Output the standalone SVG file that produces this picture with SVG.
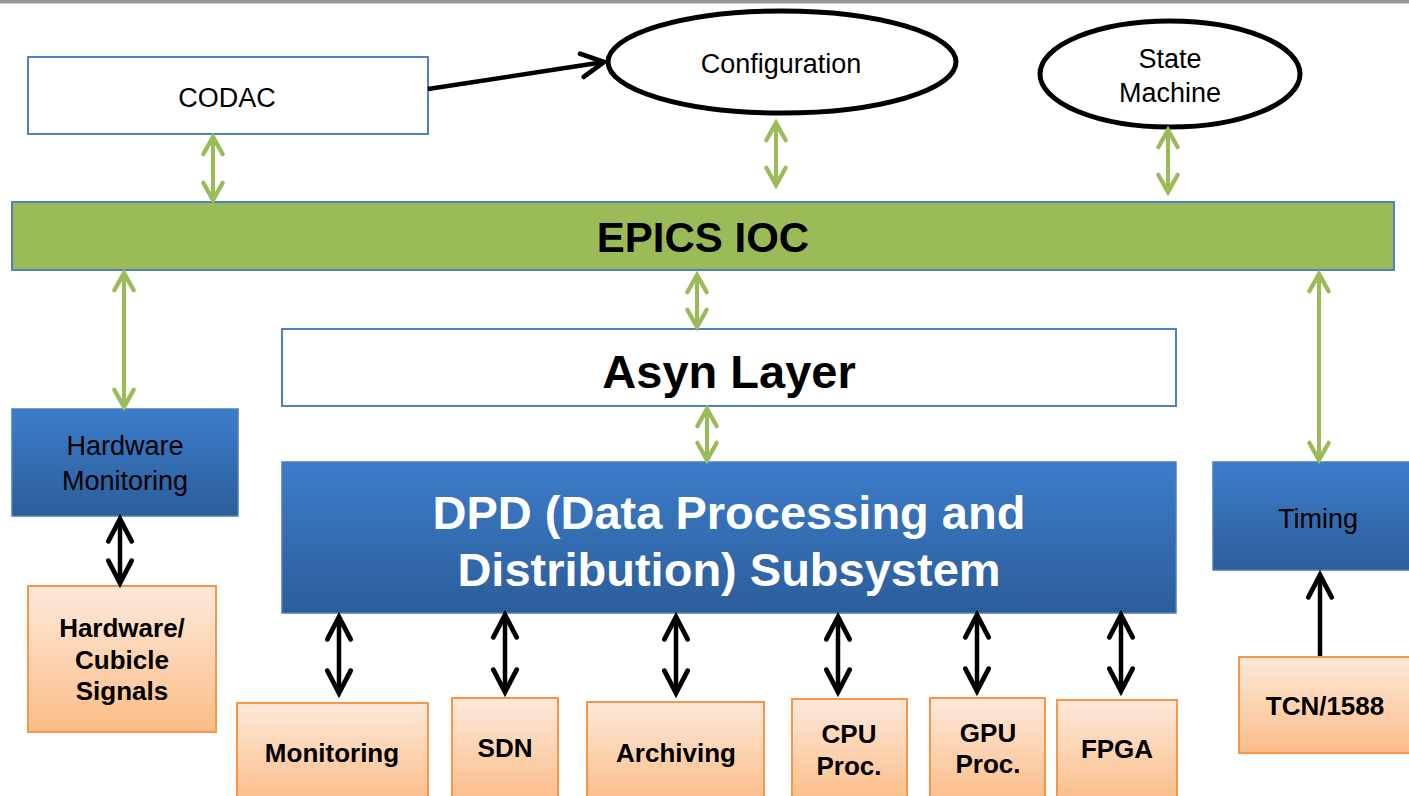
<svg xmlns="http://www.w3.org/2000/svg" width="1409" height="796" viewBox="0 0 1409 796">
<defs>
<linearGradient id="blueG" x1="0" y1="0" x2="0" y2="1">
<stop offset="0" stop-color="#3C7DCA"/>
<stop offset="1" stop-color="#2C5D99"/>
</linearGradient>
<linearGradient id="orangeG" x1="0" y1="0" x2="0" y2="1">
<stop offset="0" stop-color="#FDE9DA"/>
<stop offset="1" stop-color="#FBBD88"/>
</linearGradient>
<marker id="hb" markerUnits="userSpaceOnUse" markerWidth="34" markerHeight="34" viewBox="-4 -16 32 32" refX="22" refY="0" orient="auto-start-reverse">
<path d="M1,-11 L22,0 L1,11" fill="none" stroke="#000" stroke-width="4.5" stroke-linecap="round" stroke-linejoin="miter"/>
</marker>
<marker id="hg" markerUnits="userSpaceOnUse" markerWidth="28" markerHeight="28" viewBox="-4 -13 26 26" refX="17" refY="0" orient="auto-start-reverse">
<path d="M1,-9 L17,0 L1,9" fill="none" stroke="#9BBB59" stroke-width="4" stroke-linecap="round" stroke-linejoin="miter"/>
</marker>
</defs>
<style>
.t{font-family:"Liberation Sans",Arial,sans-serif;font-size:27px;fill:#000;text-anchor:middle}
.b{font-family:"Liberation Sans",Arial,sans-serif;font-weight:bold;font-size:26px;fill:#000;text-anchor:middle}
.big{font-family:"Liberation Sans",Arial,sans-serif;font-weight:bold;font-size:47px;text-anchor:middle}
.white{fill:#fff;stroke:#4F81BD;stroke-width:2}
.blue{fill:url(#blueG);stroke:#4A7EBB;stroke-width:1.5}
.orange{fill:url(#orangeG);stroke:#F79646;stroke-width:2}
.ell{fill:#fff;stroke:#000;stroke-width:5}
.gl{stroke:#9BBB59;stroke-width:4;fill:none;marker-start:url(#hg);marker-end:url(#hg)}
.bl{stroke:#000;stroke-width:4.5;fill:none;marker-start:url(#hb);marker-end:url(#hb)}
</style>
<rect x="0" y="0" width="1409" height="796" fill="#fff"/>
<rect x="0" y="0" width="1409" height="3.5" fill="#959595"/>

<g id="codac"><rect class="white" x="28" y="57" width="400" height="77"/><text class="t" x="227" y="107">CODAC</text></g>
<g id="configuration"><ellipse class="ell" cx="782" cy="62" rx="174" ry="51"/><text class="t" x="781" y="73">Configuration</text></g>
<g id="state-machine"><ellipse class="ell" cx="1170" cy="74" rx="130" ry="53"/><text class="t" x="1170" y="68">State</text><text class="t" x="1170" y="102">Machine</text></g>
<g id="epics-ioc"><rect x="12" y="202" width="1382" height="68" fill="#9BBB59" stroke="#4F81BD" stroke-width="2"/><text class="big" x="703" y="252" font-size="42" style="font-size:42px" fill="#000">EPICS IOC</text></g>
<g id="asyn-layer"><rect class="white" x="282" y="329" width="894" height="77"/><text class="big" x="729" y="388" fill="#000">Asyn Layer</text></g>
<g id="dpd"><rect class="blue" x="282" y="462" width="894" height="151"/><text class="big" x="729" y="529" fill="#fff">DPD (Data Processing and</text><text class="big" x="729" y="586" fill="#fff">Distribution) Subsystem</text></g>
<g id="hardware-monitoring"><rect class="blue" x="12" y="409" width="226" height="107"/><text class="t" x="125" y="455">Hardware</text><text class="t" x="125" y="490">Monitoring</text></g>
<g id="timing"><rect class="blue" x="1213" y="462" width="200" height="108"/><text class="t" x="1318" y="528">Timing</text></g>
<g id="hw-cubicle"><rect class="orange" x="28" y="586" width="188" height="146"/><text class="b" x="122" y="637">Hardware/</text><text class="b" x="122" y="669">Cubicle</text><text class="b" x="122" y="700">Signals</text></g>
<g id="tcn1588"><rect class="orange" x="1239" y="657" width="180" height="96"/><text class="b" x="1325" y="715">TCN/1588</text></g>
<g id="monitoring"><rect class="orange" x="237" y="703" width="191" height="100"/><text class="b" x="332" y="762">Monitoring</text></g>
<g id="sdn"><rect class="orange" x="452" y="698" width="106" height="105"/><text class="b" x="505" y="757">SDN</text></g>
<g id="archiving"><rect class="orange" x="587" y="702" width="177" height="101"/><text class="b" x="676" y="762">Archiving</text></g>
<g id="cpu"><rect class="orange" x="792" y="699" width="115" height="104"/><text class="b" x="849" y="743">CPU</text><text class="b" x="849" y="775">Proc.</text></g>
<g id="gpu"><rect class="orange" x="930" y="698" width="115" height="105"/><text class="b" x="988" y="742">GPU</text><text class="b" x="988" y="773">Proc.</text></g>
<g id="fpga"><rect class="orange" x="1057" y="700" width="120" height="103"/><text class="b" x="1117" y="758">FPGA</text></g>

<g id="connectors">
<line x1="428" y1="89" x2="604" y2="62" stroke="#000" stroke-width="4.5" marker-end="url(#hb)"/>
<line class="gl" x1="213" y1="137" x2="213" y2="200"/>
<line class="gl" x1="776" y1="123" x2="776" y2="185"/>
<line class="gl" x1="1168" y1="130" x2="1168" y2="192"/>
<line class="gl" x1="124" y1="273" x2="124" y2="407"/>
<line class="gl" x1="697" y1="275" x2="697" y2="327"/>
<line class="gl" x1="1319" y1="274" x2="1319" y2="460"/>
<line class="gl" x1="707" y1="409" x2="707" y2="460"/>
<line class="bl" x1="120" y1="519" x2="120" y2="583"/>
<line class="bl" x1="339" y1="617" x2="339" y2="693"/>
<line class="bl" x1="505" y1="615" x2="505" y2="692"/>
<line class="bl" x1="676" y1="617" x2="676" y2="693"/>
<line class="bl" x1="838" y1="617" x2="838" y2="692"/>
<line class="bl" x1="977" y1="615" x2="977" y2="691"/>
<line class="bl" x1="1121" y1="615" x2="1121" y2="691"/>
<line x1="1320" y1="656" x2="1320" y2="575" stroke="#000" stroke-width="4.5" marker-end="url(#hb)"/>
</g>
</svg>
